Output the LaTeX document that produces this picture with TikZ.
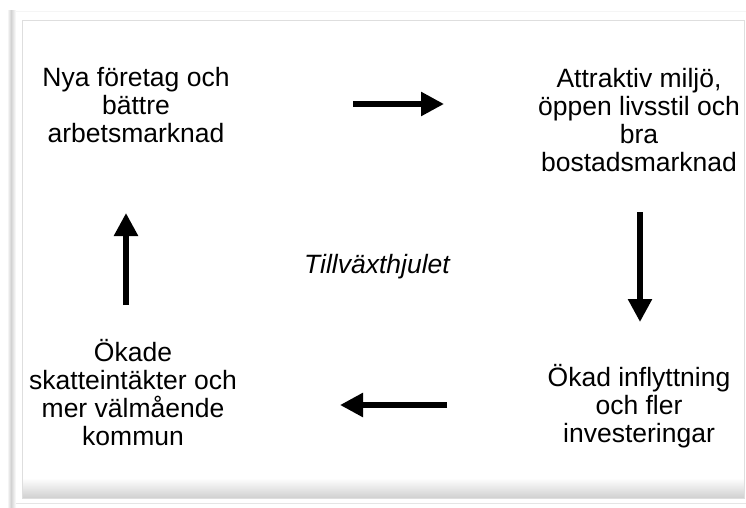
\documentclass[tikz,border=0pt]{standalone}
\usepackage{fontspec}
\setmainfont{Liberation Sans}
\usetikzlibrary{arrows.meta}
\definecolor{framegray}{HTML}{DEDEDE}
\definecolor{bandgray}{HTML}{D2D2D2}
\definecolor{shadowgray}{HTML}{D0D0D0}
\begin{document}
\begin{tikzpicture}[x=1pt,y=-1pt,
  label text/.style={align=center, font=\fontsize{26.5}{28}\selectfont, inner sep=0pt},
  flow/.style={line width=5.5pt, -{Triangle[length=23pt,width=23pt]}}]
\useasboundingbox (0,0) rectangle (746,508);
\fill[white] (0,0) rectangle (746,508);
% outer frame
\shade[left color=white, right color=bandgray] (7,11) rectangle (11,508);
\shade[left color=bandgray, right color=white] (11,11) rectangle (16,508);
\draw[line width=1pt, color=black!4] (16,11.5) -- (746,11.5);
\draw[line width=1pt, color=black!10] (16,503) -- (746,503);
% inner box with bottom shadow
\shade[top color=white, bottom color=shadowgray] (22,478) rectangle (744,498);
\draw[line width=1pt, framegray] (22,21) rectangle (744,498);
% texts
\node[label text] (n1) at (136,105) {Nya företag och\\bättre\\arbetsmarknad};
\node[label text] (n2) at (639,120) {Attraktiv miljö,\\öppen livsstil och\\bra\\bostadsmarknad};
\node[label text] (n3) at (639,406) {Ökad inflyttning\\och fler\\investeringar};
\node[label text] (n4) at (133,393) {Ökade\\skatteintäkter och\\mer välmående\\kommun};
\node[label text, font=\fontsize{26.5}{28}\selectfont\itshape] (c) at (377,267) {Tillväxthjulet};
% arrow ends
\coordinate (a1s) at (353,104); \coordinate (a1e) at (444,104);
\coordinate (a2s) at (640,212); \coordinate (a2e) at (640,322);
\coordinate (a3s) at (447,405); \coordinate (a3e) at (340,405);
\coordinate (a4s) at (126,305); \coordinate (a4e) at (126,213);
\draw[flow] (a1s) -- (a1e);
\draw[flow] (a2s) -- (a2e);
\draw[flow] (a3s) -- (a3e);
\draw[flow] (a4s) -- (a4e);
\end{tikzpicture}
\end{document}
